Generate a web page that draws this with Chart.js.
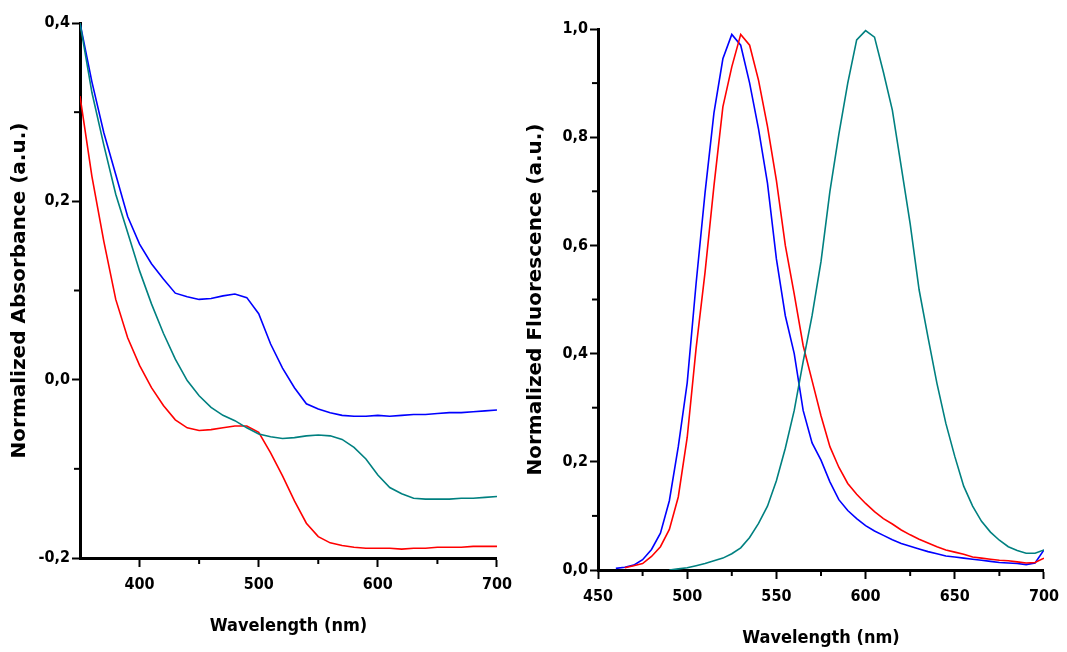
<!DOCTYPE html>
<html><head><meta charset="utf-8">
<script src="https://cdn.jsdelivr.net/npm/chart.js@4.4.0/dist/chart.umd.min.js"></script>
<style>
html,body{margin:0;padding:0;background:#fff;}
#wrap{position:relative;width:1067px;height:652px;overflow:hidden;}
#c1{position:absolute;left:0;top:0;}
#c2{position:absolute;left:520px;top:0;}
</style></head><body>
<div id="wrap"><canvas id="c1" width="520" height="652"></canvas><canvas id="c2" width="547" height="652"></canvas></div>
<script>
// ---- Absorbance panel data ----
const absWavelength = [350,360,370,380,390,400,410,420,430,440,450,460,470,480,490,500,510,520,530,540,550,560,570,580,590,600,610,620,630,640,650,660,670,680,690,700];
const absBlue = [0.400,0.334,0.277,0.230,0.183,0.152,0.130,0.113,0.097,0.093,0.090,0.091,0.094,0.096,0.092,0.074,0.040,0.013,-0.009,-0.027,-0.033,-0.037,-0.040,-0.041,-0.041,-0.040,-0.041,-0.040,-0.039,-0.039,-0.038,-0.037,-0.037,-0.036,-0.035,-0.034];
const absTeal = [0.400,0.322,0.263,0.208,0.165,0.122,0.085,0.052,0.023,-0.001,-0.018,-0.031,-0.040,-0.046,-0.054,-0.061,-0.064,-0.066,-0.065,-0.063,-0.062,-0.063,-0.067,-0.076,-0.089,-0.107,-0.121,-0.128,-0.133,-0.134,-0.134,-0.134,-0.133,-0.133,-0.132,-0.131];
const absRed = [0.318,0.228,0.155,0.090,0.047,0.016,-0.009,-0.029,-0.045,-0.054,-0.057,-0.056,-0.054,-0.052,-0.052,-0.059,-0.082,-0.108,-0.136,-0.161,-0.176,-0.183,-0.186,-0.188,-0.189,-0.189,-0.189,-0.190,-0.189,-0.189,-0.188,-0.188,-0.188,-0.187,-0.187,-0.187];
const absXTicks = [400,500,600,700];
const absXMinor = [450,550,650];
const absYTicks = [-0.2,0,0.2,0.4];
const absYMinor = [-0.1,0.1,0.3];

// ---- Fluorescence panel data ----
const flWavelength = [450,455,460,465,470,475,480,485,490,495,500,505,510,515,520,525,530,535,540,545,550,555,560,565,570,575,580,585,590,595,600,605,610,615,620,625,630,635,640,645,650,655,660,665,670,675,680,685,690,695,700];
const flBlue = [null,null,0.003,0.005,0.009,0.019,0.038,0.068,0.128,0.228, 0.346,0.53,0.697,0.845,0.945,0.99,0.970,0.900,0.815,0.715, 0.575,0.47,0.40,0.295,0.235,0.203,0.163,0.130,0.110,0.095, 0.082,0.072,0.064,0.056,0.049,0.044,0.039,0.034,0.030,0.026, 0.024,0.022,0.020,0.018,0.016,0.014,0.013,0.012,0.010,0.013, 0.037];
const flRed = [null,null,null,0.004,0.008,0.012,0.025,0.043,0.075,0.135, 0.245,0.41,0.55,0.71,0.856,0.93,0.99,0.97,0.905,0.82, 0.72,0.60,0.51,0.415,0.35,0.285,0.228,0.19,0.16,0.14, 0.123,0.108,0.095,0.085,0.074,0.065,0.057,0.050,0.043,0.037, 0.033,0.029,0.024,0.022,0.020,0.018,0.017,0.015,0.013,0.014, 0.022];
const flTeal = [null,null,null,null,null,null,null,null,0.000,0.002, 0.004,0.008,0.012,0.017,0.022,0.030,0.041,0.060,0.086,0.118, 0.165,0.225,0.295,0.385,0.47,0.57,0.70,0.805,0.90,0.98, 0.997,0.985,0.92,0.85,0.745,0.64,0.518,0.43,0.345,0.271, 0.21,0.155,0.118,0.09,0.07,0.055,0.043,0.036,0.031,0.031, 0.037];
const flXTicks = [450,500,550,600,650,700];
const flXMinor = [475,525,575,625,675];
const flYTicks = [0,0.2,0.4,0.6,0.8,1.0];
const flYMinor = [0.1,0.3,0.5,0.7,0.9];

const BLUE = '#0000ff', RED = '#ff0000', TEAL = '#008080';
const tickFont = {family:"'Liberation Sans Narrow','DejaVu Sans Condensed','Liberation Sans',Arial,sans-serif", size:16, weight:'bold'};
const yTitleFont = {family:"'DejaVu Sans',Verdana,sans-serif", size:20, weight:'bold'};
const xTitleFont = {family:"'Liberation Sans Narrow','DejaVu Sans Condensed','Liberation Sans',Arial,sans-serif", size:18, weight:'bold'};

function pts(xs, ys){ const out=[]; xs.forEach((x,i)=>{ if(ys[i]!==null) out.push({x:x,y:ys[i]}); }); return out; }
function fmt(v){ return v.toFixed(1).replace('.', ','); }

const minorTicks = {
  id:'minorTicks',
  afterDraw(chart, args, opts){
    const ctx = chart.ctx, xs = chart.scales.x, ys = chart.scales.y;
    ctx.save(); ctx.strokeStyle = '#000'; ctx.lineWidth = 2;
    (opts.x||[]).forEach(v=>{ const p = xs.getPixelForValue(v); ctx.beginPath(); ctx.moveTo(p, xs.top); ctx.lineTo(p, xs.top+6); ctx.stroke(); });
    (opts.y||[]).forEach(v=>{ const p = ys.getPixelForValue(v); ctx.beginPath(); ctx.moveTo(ys.right, p); ctx.lineTo(ys.right-6, p); ctx.stroke(); });
    ctx.restore();
  }
};

function ds(data, color){ return {data:data, borderColor:color, backgroundColor:color, borderWidth:1.6, pointRadius:0, tension:0, fill:false}; }

function makeChart(id, cfg){
  return new Chart(document.getElementById(id), {
    type:'line',
    data:{datasets:cfg.datasets},
    options:{
      responsive:false, animation:false, devicePixelRatio:1,
      layout:{padding:cfg.padding},
      plugins:{legend:{display:false}, tooltip:{enabled:false}, minorTicks:{x:cfg.xMinor, y:cfg.yMinor}},
      scales:{
        x:{type:'linear', min:cfg.xMin, max:cfg.xMax,
           afterBuildTicks:s=>{ s.ticks = cfg.xTicks.map(v=>({value:v})); },
           afterFit:s=>{ s.height = 79; },
           grid:{drawOnChartArea:false, drawTicks:true, tickLength:9, tickWidth:2, tickColor:'#000'},
           border:{display:true, color:'#000', width:3},
           ticks:{color:'#000', font:tickFont, padding:8, maxRotation:0, callback:v=>String(v)},
           title:{display:true, text:'Wavelength (nm)', color:'#000', font:xTitleFont, padding:0}},
        y:{type:'linear', min:cfg.yMin, max:cfg.yMax,
           afterBuildTicks:s=>{ s.ticks = cfg.yTicks.map(v=>({value:v})); },
           afterFit:s=>{ s.width = cfg.yWidth; },
           grid:{drawOnChartArea:false, drawTicks:true, tickLength:8, tickWidth:2, tickColor:'#000'},
           border:{display:true, color:'#000', width:3},
           ticks:{color:'#000', font:tickFont, padding:2, callback:v=>fmt(v)},
           title:{display:true, text:cfg.yTitle, color:'#000', font:yTitleFont, padding:0}}
      }
    },
    plugins:[minorTicks]
  });
}

makeChart('c1', {
  datasets:[ds(pts(absWavelength,absTeal),TEAL), ds(pts(absWavelength,absRed),RED), ds(pts(absWavelength,absBlue),BLUE)],
  padding:{left:8, right:22, top:23, bottom:15},
  xMin:350, xMax:700, yMin:-0.2, yMax:0.4,
  xTicks:absXTicks, xMinor:absXMinor, yTicks:absYTicks, yMinor:absYMinor,
  yWidth:72, yTitle:'Normalized Absorbance (a.u.)'
});
makeChart('c2', {
  datasets:[ds(pts(flWavelength,flTeal),TEAL), ds(pts(flWavelength,flRed),RED), ds(pts(flWavelength,flBlue),BLUE)],
  padding:{left:4, right:15, top:29, bottom:3},
  xMin:450, xMax:700, yMin:0, yMax:1.0,
  xTicks:flXTicks, xMinor:flXMinor, yTicks:flYTicks, yMinor:flYMinor,
  yWidth:74, yTitle:'Normalized Fluorescence (a.u.)'
});
</script>
</body></html>
